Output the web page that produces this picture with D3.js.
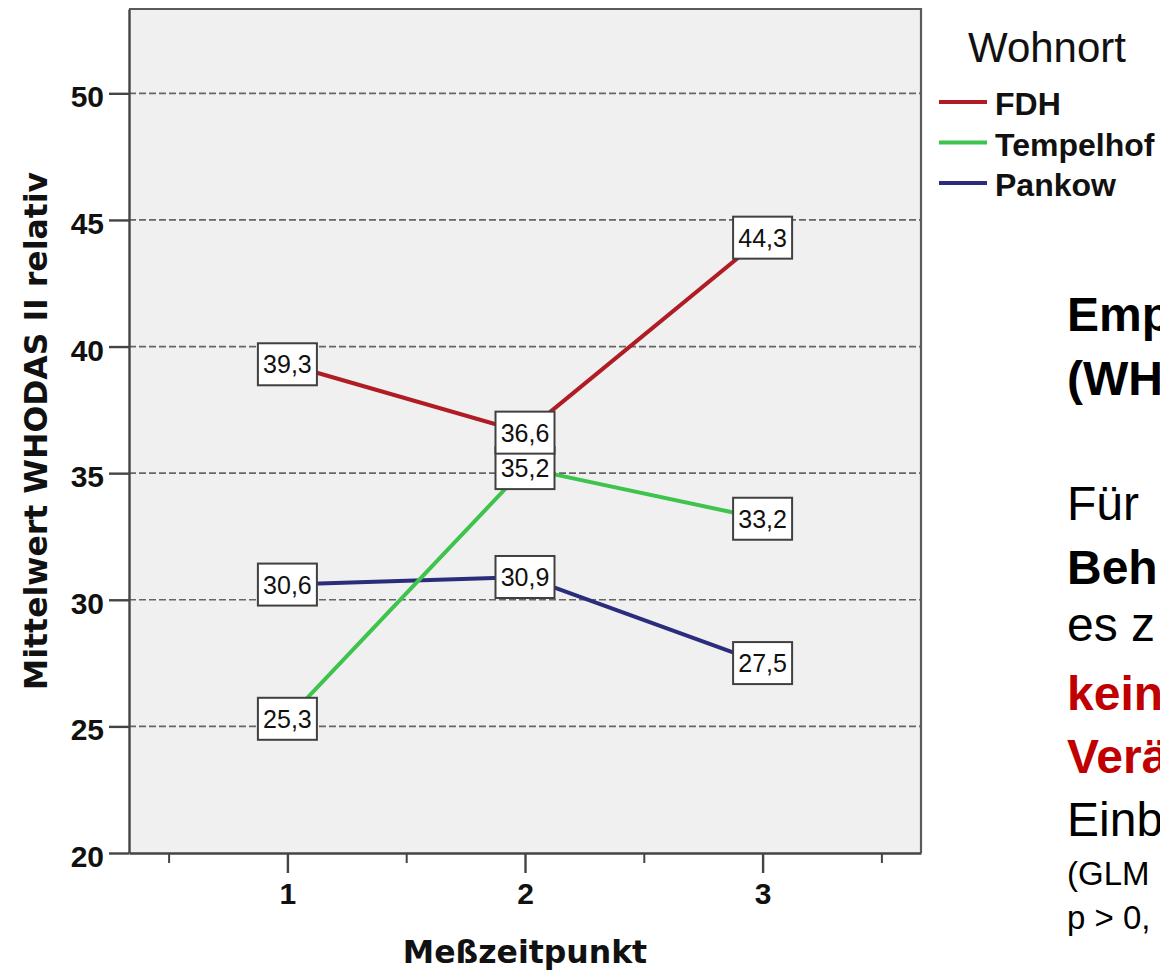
<!DOCTYPE html>
<html>
<head>
<meta charset="utf-8">
<script src="https://cdn.jsdelivr.net/npm/d3@7/dist/d3.min.js"></script>
<style>
  html, body { margin: 0; padding: 0; background: #ffffff; overflow: hidden; }
  svg { display: block; }
</style>
</head>
<body>
<svg id="chart" width="1160" height="973"></svg>
<script>
// Messzeitpunkte (x-Achse)
const timepoints = [1, 2, 3];
const timepointLabels = ["1", "2", "3"];

// Mittelwerte WHODAS II relativ je Wohnort
const seriesNames = ["FDH", "Tempelhof", "Pankow"];
const fdhValues = [39.3, 36.6, 44.3];
const tempelhofValues = [25.3, 35.2, 33.2];
const pankowValues = [30.6, 30.9, 27.5];

// y-Achse
const yTicks = [20, 25, 30, 35, 40, 45, 50];
const yDomain = [20, 53.33];
const xDomain = [1 / 3, 11 / 3];
const xMinorTicks = [0.5, 1.5, 2.5, 3.5];

const seriesColors = ["#b01c23", "#3ec34c", "#2b2d7c"];

const series = [
  { name: seriesNames[0], values: fdhValues, color: seriesColors[0] },
  { name: seriesNames[1], values: tempelhofValues, color: seriesColors[1] },
  { name: seriesNames[2], values: pankowValues, color: seriesColors[2] }
];

const svg = d3.select("#chart");
const plot = { left: 129, right: 921, top: 9, bottom: 853 };

const x = d3.scaleLinear().domain(xDomain).range([plot.left, plot.right]);
const y = d3.scaleLinear().domain(yDomain).range([plot.bottom, plot.top]);

// Plot background
svg.append("rect")
  .attr("x", plot.left).attr("y", plot.top)
  .attr("width", plot.right - plot.left).attr("height", plot.bottom - plot.top)
  .attr("fill", "#f0f0f0");

// Dashed reference lines
svg.append("g")
  .selectAll("line")
  .data(yTicks.filter(t => t > yDomain[0]))
  .join("line")
  .attr("x1", plot.left).attr("x2", plot.right)
  .attr("y1", d => y(d)).attr("y2", d => y(d))
  .attr("stroke", "#666")
  .attr("stroke-width", 1.7)
  .attr("stroke-dasharray", "7,3");

// Frame (top and right)
svg.append("path")
  .attr("d", `M${plot.left},${plot.top}H${plot.right}V${plot.bottom}`)
  .attr("fill", "none").attr("stroke", "#5a5a5a").attr("stroke-width", 2.2);

// y axis
const yAxis = d3.axisLeft(y).tickValues(yTicks).tickSize(20).tickSizeOuter(0).tickPadding(5)
  .tickFormat(d3.format("d"));
const gy = svg.append("g").attr("transform", `translate(${plot.left},0)`).call(yAxis);
gy.select(".domain").attr("stroke", "#444").attr("stroke-width", 2.4);
gy.selectAll(".tick line").attr("stroke", "#444").attr("stroke-width", 2.4);
gy.selectAll(".tick text")
  .attr("font-family", "'Liberation Sans', Arial, sans-serif")
  .attr("font-weight", "bold")
  .attr("font-size", 30)
  .attr("fill", "#111")
  .attr("dy", "0.45em");

// x axis (major ticks with labels)
const xAxis = d3.axisBottom(x).tickValues(timepoints).tickSize(20).tickSizeOuter(0).tickPadding(10)
  .tickFormat((d, i) => timepointLabels[i]);
const gx = svg.append("g").attr("transform", `translate(0,${plot.bottom})`).call(xAxis);
gx.select(".domain").attr("stroke", "#444").attr("stroke-width", 2.4);
gx.selectAll(".tick line").attr("stroke", "#444").attr("stroke-width", 2.4);
gx.selectAll(".tick text")
  .attr("font-family", "'Liberation Sans', Arial, sans-serif")
  .attr("font-weight", "bold")
  .attr("font-size", 30)
  .attr("fill", "#111");

// x axis minor ticks
const xMinor = d3.axisBottom(x).tickValues(xMinorTicks).tickSize(10).tickSizeOuter(0).tickFormat("");
const gxm = svg.append("g").attr("transform", `translate(0,${plot.bottom})`).call(xMinor);
gxm.select(".domain").remove();
gxm.selectAll(".tick line").attr("stroke", "#444").attr("stroke-width", 2);

// Axis titles
svg.append("text")
  .attr("transform", `translate(47,${(plot.top + plot.bottom) / 2}) rotate(-90)`)
  .attr("text-anchor", "middle")
  .attr("font-family", "'DejaVu Sans', Verdana, sans-serif")
  .attr("font-weight", "bold")
  .attr("font-size", 31.5)
  .attr("fill", "#111")
  .text("Mittelwert WHODAS II relativ");

svg.append("text")
  .attr("x", x(2)).attr("y", 963)
  .attr("text-anchor", "middle")
  .attr("font-family", "'DejaVu Sans', Verdana, sans-serif")
  .attr("font-weight", "bold")
  .attr("font-size", 31.5)
  .attr("fill", "#111")
  .text("Meßzeitpunkt");

// Lines (Pankow before Tempelhof so the green line crosses above)
const line = d3.line().x((d, i) => x(timepoints[i])).y(d => y(d));
const lineOrder = [series[0], series[2], series[1]];
svg.append("g")
  .selectAll("path")
  .data(lineOrder)
  .join("path")
  .attr("d", s => line(s.values))
  .attr("fill", "none")
  .attr("stroke", s => s.color)
  .attr("stroke-width", 4)
  .attr("stroke-linejoin", "round");

// Value labels in boxes (FDH drawn last, on top)
const boxW = 59, boxH = 42;
const labelOrder = [series[2], series[1], series[0]];
const fmt = v => d3.format(".1f")(v).replace(".", ",");
labelOrder.forEach(s => {
  const g = svg.append("g");
  const items = g.selectAll("g")
    .data(s.values.map((v, i) => ({ v, t: timepoints[i] })))
    .join("g")
    .attr("transform", d => `translate(${x(d.t)},${y(d.v)})`);
  items.append("rect")
    .attr("x", -boxW / 2).attr("y", -boxH / 2)
    .attr("width", boxW).attr("height", boxH)
    .attr("fill", "#ffffff")
    .attr("stroke", "#404040")
    .attr("stroke-width", 2);
  items.append("text")
    .attr("text-anchor", "middle")
    .attr("dy", "0.36em")
    .attr("font-family", "'Liberation Sans', Arial, sans-serif")
    .attr("font-size", 25)
    .attr("fill", "#111")
    .text(d => fmt(d.v));
});

// Legend
svg.append("text")
  .attr("x", 968).attr("y", 62)
  .attr("font-family", "'Liberation Sans', Arial, sans-serif")
  .attr("font-size", 42)
  .attr("fill", "#111")
  .text("Wohnort");

const legend = svg.append("g")
  .selectAll("g")
  .data(series)
  .join("g")
  .attr("transform", (d, i) => `translate(0,${102 + i * 40.5})`);
legend.append("line")
  .attr("x1", 939).attr("x2", 987)
  .attr("stroke", d => d.color)
  .attr("stroke-width", 4);
legend.append("text")
  .attr("x", 995).attr("y", 13)
  .attr("font-family", "'Liberation Sans', Arial, sans-serif")
  .attr("font-weight", "bold")
  .attr("font-size", 32)
  .attr("fill", "#111")
  .text(d => d.name);

// Side text block, running into the right edge of the page
const sideLines = [
  { t: "Emp", y: 331, size: 48, bold: true, color: "#000" },
  { t: "(WH", y: 395, size: 48, bold: true, color: "#000" },
  { t: "Für", y: 520, size: 48, bold: false, color: "#000" },
  { t: "Beh", y: 584, size: 48, bold: true, color: "#000" },
  { t: "es z", y: 641, size: 48, bold: false, color: "#000" },
  { t: "kein", y: 710, size: 48, bold: true, color: "#c00000" },
  { t: "Verä", y: 773, size: 48, bold: true, color: "#c00000" },
  { t: "Einb", y: 836, size: 48, bold: false, color: "#000" },
  { t: "(GLM", y: 885, size: 33, bold: false, color: "#000" },
  { t: "p > 0,", y: 929, size: 33, bold: false, color: "#000" }
];
svg.append("g")
  .selectAll("text")
  .data(sideLines)
  .join("text")
  .attr("x", 1067)
  .attr("y", d => d.y)
  .attr("font-family", "'Liberation Sans', Arial, sans-serif")
  .attr("font-size", d => d.size)
  .attr("font-weight", d => d.bold ? "bold" : "normal")
  .attr("fill", d => d.color)
  .text(d => d.t);
</script>
</body>
</html>
